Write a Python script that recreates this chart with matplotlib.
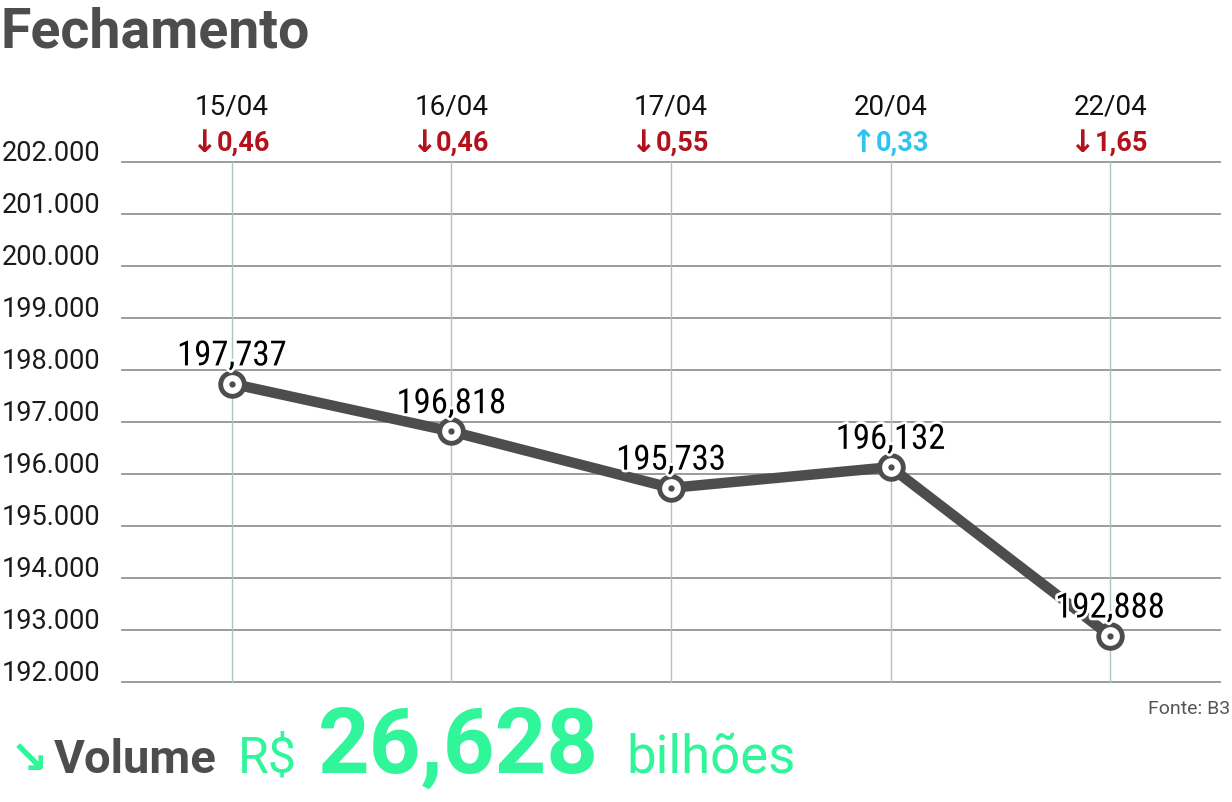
import matplotlib.pyplot as plt
import matplotlib.patheffects as pe
from matplotlib.transforms import blended_transform_factory

# dados
datas = ["15/04", "16/04", "17/04", "20/04", "22/04"]
fechamento = [197.737, 196.818, 195.733, 196.132, 192.888]
rotulos = ["197,737", "196,818", "195,733", "196,132", "192,888"]
variacao = ["0,46", "0,46", "0,55", "0,33", "1,65"]
sobe = [False, False, False, True, False]
y_ticks = [192, 193, 194, 195, 196, 197, 198, 199, 200, 201, 202]
y_labels = ["192.000", "193.000", "194.000", "195.000", "196.000", "197.000",
            "198.000", "199.000", "200.000", "201.000", "202.000"]

CINZA = "#4d4d4d"
VERMELHO = "#b3121c"
AZUL = "#2ec4ee"
VERDE = "#30f59a"


def main():
    fig = plt.figure(figsize=(12.32, 8.03), dpi=100)
    ax = fig.add_axes([122 / 1232, 1 - 683 / 803, (1220 - 122) / 1232, (683 - 163) / 803])
    x = list(range(len(datas)))

    ax.set_xlim(-0.5, 4.5)
    ax.set_ylim(192, 202)
    for s in ax.spines.values():
        s.set_visible(False)
    ax.set_xticks([])
    ax.set_yticks([])

    for yv in y_ticks:
        ax.axhline(yv, color="#9c9c9c", lw=1.4, zorder=1, clip_on=False)
    for xv in x:
        ax.axvline(xv, color="#a8c6c2", lw=1.0, zorder=1, clip_on=False)

    ax.plot(x, fechamento, color=CINZA, lw=7.5, solid_capstyle="butt", zorder=3)
    ax.plot(x, fechamento, ls="none", marker="o", ms=17, mfc="white",
            mec=CINZA, mew=3.5, zorder=4)
    ax.plot(x, fechamento, ls="none", marker="o", ms=3.5, mfc=CINZA,
            mec=CINZA, zorder=5)

    contorno = [pe.withStroke(linewidth=4, foreground="white")]
    for xi, yi, r in zip(x, fechamento, rotulos):
        ax.annotate(r, (xi, yi), xytext=(0, 20), textcoords="offset points",
                    ha="center", va="center", fontsize=25,
                    family=["Liberation Sans Narrow", "Roboto Condensed",
                            "DejaVu Sans Condensed", "Roboto"],
                    color="black", path_effects=contorno, zorder=6)

    # eixo y
    tr = blended_transform_factory(fig.transFigure, ax.transData)
    for yv, lab in zip(y_ticks, y_labels):
        ax.annotate(lab, (100 / 1232, yv), xycoords=tr, xytext=(0, 7),
                    textcoords="offset points", ha="right", va="center",
                    fontsize=19.5, family="Roboto", color="#1a1a1a",
                    annotation_clip=False)

    # datas e variação
    trx = blended_transform_factory(ax.transData, fig.transFigure)
    for xi, d, v, up in zip(x, datas, variacao, sobe):
        ax.text(xi, 1 - 107 / 803, d, transform=trx, ha="center", va="center",
                fontsize=20, family="Roboto", color="#111111")
        cor = AZUL if up else VERMELHO
        seta = "\u2191" if up else "\u2193"
        ax.annotate(v, (xi, 1 - 143 / 803), xycoords=trx, xytext=(-11, 0),
                    textcoords="offset points", ha="left", va="center",
                    fontsize=19.5, fontweight="bold", family="Roboto",
                    color=cor)
        ax.annotate(seta, (xi, 1 - 143 / 803), xycoords=trx, xytext=(-11, 0),
                    textcoords="offset points", ha="right", va="center",
                    fontsize=22, fontweight="bold", family="DejaVu Sans",
                    color=cor)

    fig.text(0, 1 - 47 / 803, "Fechamento", ha="left", va="baseline",
             fontsize=40, fontweight="bold", family="Roboto", color=CINZA)
    fig.text(1230 / 1232, 1 - 714 / 803, "Fonte: B3", ha="right",
             va="baseline", fontsize=14, family="Roboto", color="#555555")

    base = 1 - 773 / 803
    fig.text(10 / 1232, base, "\u2198", ha="left", va="baseline", fontsize=33,
             fontweight="bold", family=["DejaVu Sans"], color=VERDE)
    fig.text(54 / 1232, base, "Volume", ha="left", va="baseline", fontsize=34,
             fontweight="bold", family="Roboto", color=CINZA)
    fig.text(238 / 1232, base, "R$", ha="left", va="baseline", fontsize=36,
             family="Roboto", color=VERDE)
    fig.text(318 / 1232, base, "26,628", ha="left", va="baseline",
             fontsize=65, fontweight="bold", family="Roboto", color=VERDE)
    fig.text(626 / 1232, base, "bilhões", ha="left", va="baseline",
             fontsize=38, family="Roboto", color=VERDE)

    fig.savefig("out.png", dpi=100, facecolor="white")


if __name__ == '__main__':
    main()
